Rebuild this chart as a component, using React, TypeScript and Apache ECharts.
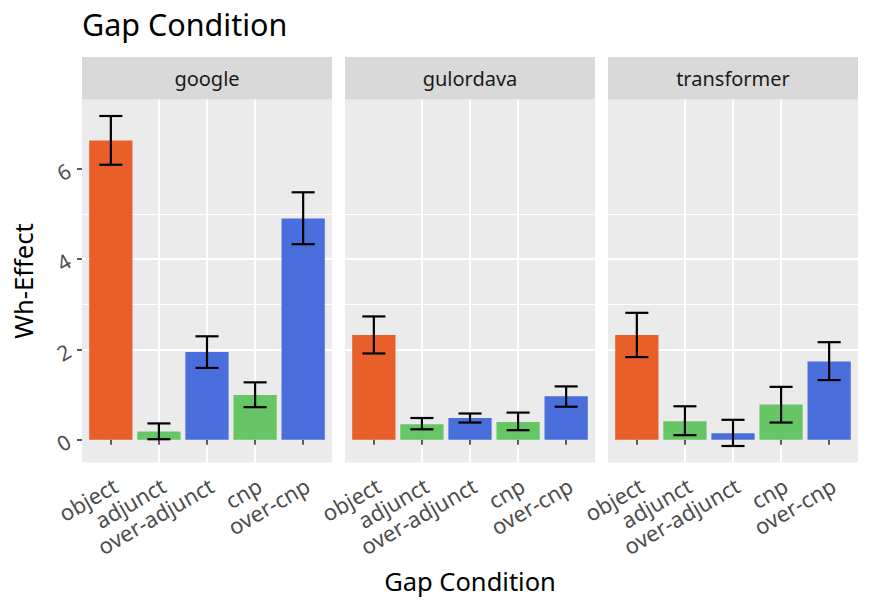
import React, { useEffect, useRef } from "react";
import * as echarts from "echarts";

const panels = ["google", "gulordava", "transformer"];
const categories = ["object", "adjunct", "over-adjunct", "cnp", "over-cnp"];
const conditionColors = ["#E95F2A", "#66C666", "#4A6FDC", "#66C666", "#4A6FDC"];

const googleMean = [6.63, 0.18, 1.94, 0.99, 4.9];
const googleLow = [6.09, 0.01, 1.59, 0.72, 4.33];
const googleHigh = [7.17, 0.36, 2.29, 1.27, 5.48];

const gulordavaMean = [2.32, 0.34, 0.48, 0.39, 0.96];
const gulordavaLow = [1.91, 0.23, 0.38, 0.21, 0.73];
const gulordavaHigh = [2.73, 0.48, 0.58, 0.6, 1.18];

const transformerMean = [2.32, 0.41, 0.14, 0.78, 1.73];
const transformerLow = [1.83, 0.1, -0.14, 0.38, 1.32];
const transformerHigh = [2.81, 0.74, 0.44, 1.17, 2.16];

const yMajorTicks = [0, 2, 4, 6];
const yMinorTicks = [1, 3, 5, 7];
const xTicks = [1, 2, 3, 4, 5];

const means = [googleMean, gulordavaMean, transformerMean];
const lows = [googleLow, gulordavaLow, transformerLow];
const highs = [googleHigh, gulordavaHigh, transformerHigh];

const FONT = "Noto Sans";
const panelLeft = [82, 345, 608];
const panelWidth = 250;
const panelTop = 99.5;
const panelHeight = 363;
const stripTop = 57;

export default function App() {
  const ref = useRef<HTMLDivElement>(null);

  useEffect(() => {
    if (!ref.current) return;
    const chart = echarts.init(ref.current, null, { renderer: "svg" });

    const allLow = Math.min(...lows.flat(), 0);
    const allHigh = Math.max(...highs.flat());
    const span = allHigh - allLow;
    const yMin = allLow - 0.05 * span;
    const yMax = allHigh + 0.05 * span;

    const grid: any[] = [];
    const xAxis: any[] = [];
    const yAxis: any[] = [];
    const series: any[] = [];
    const graphic: any[] = [];

    panels.forEach((name, i) => {
      grid.push({
        left: panelLeft[i],
        top: panelTop,
        width: panelWidth,
        height: panelHeight,
        show: true,
        backgroundColor: "#EBEBEB",
        borderWidth: 0,
        containLabel: false,
      });
      xAxis.push({
        type: "value",
        gridIndex: i,
        position: "bottom",
        min: 0.4,
        max: 5.6,
        axisLine: { show: false },
        axisTick: {
          show: true,
          customValues: xTicks,
          length: 5,
          lineStyle: { color: "#333333", width: 1.6 },
        },
        axisLabel: {
          show: true,
          customValues: xTicks,
          formatter: (v: number) => categories[Math.round(v) - 1] ?? "",
          rotate: 30,
          color: "#4D4D4D",
          fontSize: 22,
          fontFamily: FONT,
          margin: 7,
          align: "right",
          verticalAlign: "top",
          padding: [3, 3, 0, 0],
        },
        splitLine: {
          show: true,
          showMinLine: false,
          showMaxLine: false,
          lineStyle: { color: "#FFFFFF", width: 2 },
        },
      });
      // minor horizontal grid lines
      yAxis.push({
        type: "value",
        gridIndex: i,
        position: "left",
        min: yMin,
        max: yMax,
        splitNumber: 8,
        axisLine: { show: false },
        axisTick: { show: false, customValues: yMinorTicks },
        axisLabel: { show: false },
        splitLine: {
          show: true,
          showMinLine: false,
          showMaxLine: false,
          lineStyle: { color: "#FFFFFF", width: 1 },
        },
      });
      // major horizontal grid lines + labels
      yAxis.push({
        type: "value",
        gridIndex: i,
        position: "left",
        offset: 0,
        min: yMin,
        max: yMax,
        splitNumber: 4,
        axisLine: { show: false },
        axisTick: {
          show: i === 0,
          customValues: yMajorTicks,
          length: 5,
          lineStyle: { color: "#333333", width: 1.6 },
        },
        axisLabel: {
          show: i === 0,
          customValues: yMajorTicks,
          formatter: (v: number) => String(v),
          rotate: 30,
          color: "#4D4D4D",
          fontSize: 21,
          fontFamily: FONT,
          margin: 13,
        },
        splitLine: {
          show: true,
          showMinLine: false,
          showMaxLine: false,
          lineStyle: { color: "#FFFFFF", width: 2 },
        },
      });

      const data = categories.map((c, k) => [k + 1, means[i][k], lows[i][k], highs[i][k], k]);

      series.push({
        type: "custom",
        name: name + "-bars",
        xAxisIndex: i,
        yAxisIndex: 2 * i + 1,
        data,
        z: 3,
        renderItem: (_p: any, api: any) => {
          const x = api.value(0);
          const y = api.value(1);
          const a = api.coord([x - 0.45, y]);
          const b = api.coord([x + 0.45, 0]);
          return {
            type: "rect",
            shape: {
              x: a[0],
              y: Math.min(a[1], b[1]),
              width: b[0] - a[0],
              height: Math.abs(b[1] - a[1]),
            },
            style: { fill: conditionColors[api.value(4)] },
          };
        },
      });

      series.push({
        type: "custom",
        name: name + "-errors",
        xAxisIndex: i,
        yAxisIndex: 2 * i + 1,
        data,
        z: 4,
        renderItem: (_p: any, api: any) => {
          const x = api.value(0);
          const lo = api.value(2);
          const hi = api.value(3);
          const pLo = api.coord([x, lo]);
          const pHi = api.coord([x, hi]);
          const l = api.coord([x - 0.24, lo]);
          const r = api.coord([x + 0.24, lo]);
          const lh = api.coord([x - 0.24, hi]);
          const rh = api.coord([x + 0.24, hi]);
          const st = { stroke: "#000000", lineWidth: 2.2 };
          return {
            type: "group",
            children: [
              { type: "line", shape: { x1: pLo[0], y1: pLo[1], x2: pHi[0], y2: pHi[1] }, style: st },
              { type: "line", shape: { x1: l[0], y1: l[1], x2: r[0], y2: r[1] }, style: st },
              { type: "line", shape: { x1: lh[0], y1: lh[1], x2: rh[0], y2: rh[1] }, style: st },
            ],
          };
        },
      });

      graphic.push({
        type: "rect",
        shape: { x: panelLeft[i], y: stripTop, width: panelWidth, height: panelTop - stripTop },
        style: { fill: "#D9D9D9" },
        silent: true,
      });
      graphic.push({
        type: "text",
        x: panelLeft[i] + panelWidth / 2,
        y: (stripTop + panelTop) / 2,
        style: {
          text: name,
          align: "center",
          verticalAlign: "middle",
          fontSize: 20,
          fontFamily: FONT,
          fill: "#1A1A1A",
        },
        silent: true,
      });
    });

    graphic.push({
      type: "text",
      x: 23,
      y: panelTop + panelHeight / 2,
      rotation: Math.PI / 2,
      style: {
        text: "Wh-Effect",
        align: "center",
        verticalAlign: "middle",
        fontSize: 25.5,
        fontFamily: FONT,
        fill: "#000000",
      },
      silent: true,
    });
    graphic.push({
      type: "text",
      x: (panelLeft[0] + panelLeft[2] + panelWidth) / 2,
      y: 581,
      style: {
        text: "Gap Condition",
        align: "center",
        verticalAlign: "middle",
        fontSize: 25.5,
        fontFamily: FONT,
        fill: "#000000",
      },
      silent: true,
    });

    chart.setOption({
      animation: false,
      backgroundColor: "#FFFFFF",
      title: {
        text: "Gap Condition",
        left: 77,
        top: 3,
        textStyle: { fontSize: 30.5, fontWeight: "normal", fontFamily: FONT, color: "#000000" },
      },
      grid,
      xAxis,
      yAxis,
      series,
      graphic,
    });

    return () => chart.dispose();
  }, []);

  return (
    <div
      ref={ref}
      style={{ position: "absolute", left: 0, top: 0, width: 872, height: 610 }}
    />
  );
}
